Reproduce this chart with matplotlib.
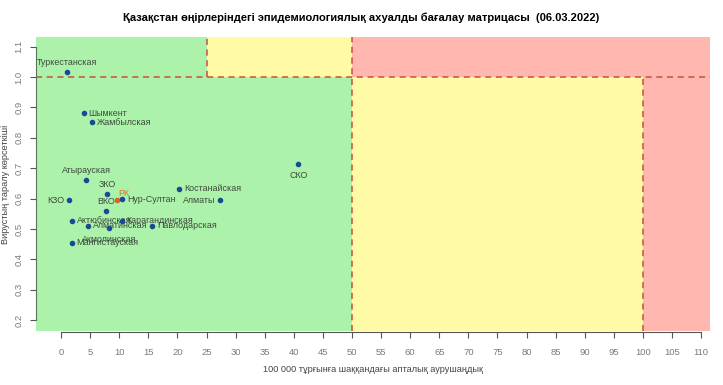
import matplotlib.pyplot as plt

plt.rcParams['font.family'] = ['Liberation Sans', 'DejaVu Sans']

# -------- Данные --------
regions = ["Туркестанская", "Шымкент", "Жамбылская", "Атырауская", "ЗКО", "РК",
           "Нур-Султан", "КЗО", "ВКО", "Актюбинская", "Карагандинская",
           "Алматинская", "Павлодарская", "Акмолинская", "Мангистауская",
           "Костанайская", "Алматы", "СКО"]
incidence = [1.0, 3.9, 5.3, 4.35, 7.9, 9.6, 10.5, 1.4, 7.7, 1.95, 10.4,
             4.6, 15.7, 8.3, 1.8, 20.3, 27.3, 40.8]
rt = [1.016, 0.881, 0.852, 0.662, 0.615, 0.594, 0.598, 0.594, 0.559, 0.527,
      0.527, 0.510, 0.510, 0.502, 0.455, 0.632, 0.594, 0.713]
# позиция подписи как в R: 1 снизу, 2 слева, 3 сверху, 4 справа
label_pos = [3, 4, 4, 3, 3, 4, 4, 2, 3, 4, 4, 4, 4, 1, 4, 4, 2, 1]

x_ticks = list(range(0, 111, 5))
y_ticks = [0.2, 0.3, 0.4, 0.5, 0.6, 0.7, 0.8, 0.9, 1.0, 1.1]

GREEN = "#adf2aa"
YELLOW = "#fffaa6"
RED = "#ffb7b0"
DASH = "#c8503a"

fig = plt.figure(figsize=(7.23, 3.85), dpi=100)
ax = fig.add_axes([0.0498, 0.140, 0.932, 0.764])
x0, x1 = -4.3, 111.5
y0, y1 = 0.164, 1.132
ax.set_xlim(x0, x1)
ax.set_ylim(y0, y1)

# зоны
ax.fill_between([x0, 50], y0, 1.0, color=GREEN, lw=0)
ax.fill_between([x0, 25], 1.0, y1, color=GREEN, lw=0)
ax.fill_between([25, 50], 1.0, y1, color=YELLOW, lw=0)
ax.fill_between([50, 100], y0, 1.0, color=YELLOW, lw=0)
ax.fill_between([50, x1], 1.0, y1, color=RED, lw=0)
ax.fill_between([100, x1], y0, 1.0, color=RED, lw=0)

dash = dict(color=DASH, lw=1.1, ls=(0, (4, 3)))
ax.plot([x0, x1], [1.0, 1.0], **dash)
ax.plot([25, 25], [1.0, y1], **dash)
ax.plot([50, 50], [y0, y1], **dash)
ax.plot([100, 100], [y0, 1.0], **dash)

offs = {1: (0, -8, "center", "center"), 2: (-3.5, 0, "right", "center"),
        3: (0, 7, "center", "center"), 4: (3.5, 0, "left", "center")}
for name, xv, yv, p in zip(regions, incidence, rt, label_pos):
    is_rk = name == "РК"
    ax.plot(xv, yv, "o", ms=3, color="#d2691e" if is_rk else "#1a4a96", zorder=5)
    dx, dy, ha, va = offs[p]
    if is_rk:
        dx, dy = 1, 5
    ax.annotate(name, (xv, yv), xytext=(dx, dy), textcoords="offset points",
                ha=ha, va=va, fontsize=6.4,
                color="#e07020" if is_rk else "#3c4a3c")

for s in ["top", "right"]:
    ax.spines[s].set_visible(False)
ax.spines["left"].set_bounds(0.2, 1.1)
ax.spines["bottom"].set_bounds(0, 110)
ax.spines["left"].set_color("#557755")
ax.spines["bottom"].set_color("#555555")
ax.spines["bottom"].set_position(("outward", 1))

ax.set_xticks(x_ticks)
ax.set_yticks(y_ticks)
ax.set_yticklabels([f"{v:.1f}" for v in y_ticks], rotation=90, va="center")
ax.tick_params(axis="both", labelsize=6.8, labelcolor="#7a7a7a", color="#555555",
               length=4, direction="out")
ax.tick_params(axis="x", pad=7)
ax.tick_params(axis="y", pad=5)

ax.set_xlabel("100 000 тұрғынға шаққандағы апталық аурушаңдық", fontsize=6.6,
              color="#444444", labelpad=6)
ax.set_ylabel("Вирустың таралу көрсеткіші", fontsize=6.6, color="#444444", labelpad=3)

fig.text(0.5, 0.955, "Қазақстан өңірлеріндегі эпидемиологиялық ахуалды бағалау матрицасы  (06.03.2022)",
         ha="center", va="center", fontsize=8, fontweight="bold")

plt.savefig("out.png", dpi=100)
